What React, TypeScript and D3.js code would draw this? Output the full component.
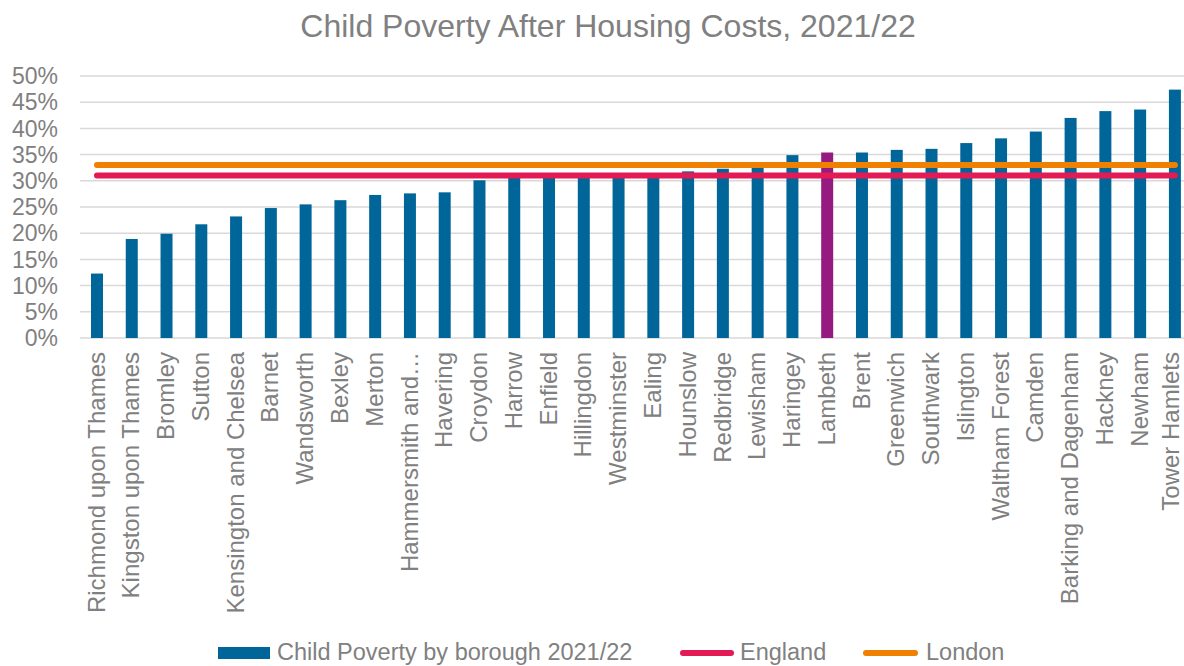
import React from 'react'
import * as d3 from 'd3'

const boroughs = [
  'Richmond upon Thames', 'Kingston upon Thames', 'Bromley', 'Sutton', 'Kensington and Chelsea',
  'Barnet', 'Wandsworth', 'Bexley', 'Merton', 'Hammersmith and…', 'Havering', 'Croydon', 'Harrow',
  'Enfield', 'Hillingdon', 'Westminster', 'Ealing', 'Hounslow', 'Redbridge', 'Lewisham', 'Haringey',
  'Lambeth', 'Brent', 'Greenwich', 'Southwark', 'Islington', 'Waltham Forest', 'Camden',
  'Barking and Dagenham', 'Hackney', 'Newham', 'Tower Hamlets',
]
const poverty = [
  12.3, 18.9, 19.9, 21.7, 23.2, 24.8, 25.5, 26.3, 27.3, 27.6, 27.8, 30.1, 30.6,
  30.8, 31.0, 31.1, 31.3, 31.8, 32.3, 32.5, 34.9, 35.4, 35.4, 35.9, 36.1, 37.2,
  38.1, 39.4, 42.0, 43.3, 43.6, 47.4,
]
const highlighted = ['Lambeth']
const englandValue = 31
const londonValue = 33
const yTicks = [0, 5, 10, 15, 20, 25, 30, 35, 40, 45, 50]

const W = 1184
const H = 666
const blue = '#006699'
const purple = '#951B81'
const pink = '#E31B54'
const orange = '#F08000'
const grey = '#808080'
const font = '"Liberation Sans", Arial, sans-serif'

export default function App() {
  const x = d3.scaleBand<string>().domain(boroughs).range([79.6, 1192.3]).padding(0)
  const y = d3.scaleLinear().domain([0, 50]).range([338, 76])
  const barW = x.bandwidth() * 0.345
  const cx = (b: string) => x(b)! + x.bandwidth() / 2
  const first = cx(boroughs[0])
  const last = cx(boroughs[boroughs.length - 1])

  const refLines = [
    { name: 'England', value: englandValue, color: pink },
    { name: 'London', value: londonValue, color: orange },
  ]

  return (
    <svg width={W} height={H} style={{ position: 'absolute', left: 0, top: 0, fontFamily: font }}>
      <rect width={W} height={H} fill="#fff" />
      <text x={608} y={37} textAnchor="middle" fontSize={32} fill={grey}>
        Child Poverty After Housing Costs, 2021/22
      </text>

      {yTicks.map(t => (
        <g key={t}>
          <line x1={80} x2={W} y1={y(t)} y2={y(t)} stroke="#d9d9d9" strokeWidth={1.5} />
          <text x={58} y={y(t)} dy="0.36em" textAnchor="end" fontSize={23} fill={grey}>{t}%</text>
        </g>
      ))}

      {boroughs.map((b, i) => (
        <rect key={b} x={cx(b) - barW / 2} width={barW} y={y(poverty[i])} height={y(0) - y(poverty[i])}
          fill={highlighted.includes(b) ? purple : blue} />
      ))}

      {refLines.slice().reverse().map(l => (
        <line key={l.name} x1={first} x2={last} y1={y(l.value)} y2={y(l.value)} stroke={l.color}
          strokeWidth={6} strokeLinecap="round" />
      ))}

      {boroughs.map(b => (
        <text key={b} transform={`translate(${Math.min(cx(b) - 1, W - 14)},352) rotate(-90)`} dy="0.36em"
          textAnchor="end" fontSize={24} fill={grey}>{b}</text>
      ))}

      <g fontSize={23.5} fill={grey}>
        <rect x={218} y={647} width={52} height={12} fill={blue} />
        <text x={277} y={652} dy="0.36em">Child Poverty by borough 2021/22</text>
        <line x1={683} x2={731} y1={653} y2={653} stroke={pink} strokeWidth={6} strokeLinecap="round" />
        <text x={740} y={652} dy="0.36em">England</text>
        <line x1={866} x2={915} y1={653} y2={653} stroke={orange} strokeWidth={6} strokeLinecap="round" />
        <text x={926} y={652} dy="0.36em">London</text>
      </g>
    </svg>
  )
}
